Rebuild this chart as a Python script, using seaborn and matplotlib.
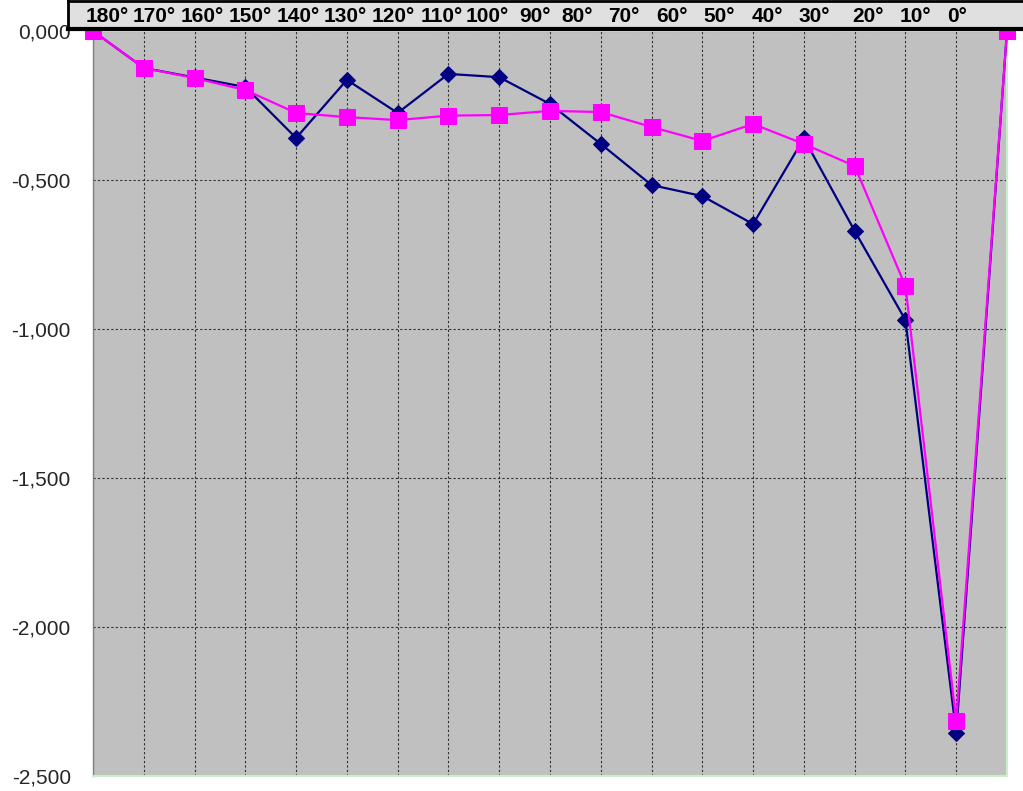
import pandas as pd
import matplotlib
matplotlib.use("Agg")
import matplotlib.pyplot as plt
import seaborn as sns

angles = ["180°", "170°", "160°", "150°", "140°", "130°", "120°", "110°", "100°", "90°",
          "80°", "70°", "60°", "50°", "40°", "30°", "20°", "10°", "0°"]
serie_azul = [0.0, -0.124, -0.156, -0.188, -0.359, -0.164, -0.275, -0.144, -0.155, -0.245,
              -0.379, -0.517, -0.554, -0.648, -0.360, -0.671, -0.970, -2.356, 0.0]
serie_rosa = [0.0, -0.124, -0.158, -0.198, -0.275, -0.289, -0.299, -0.284, -0.282, -0.268,
              -0.272, -0.322, -0.369, -0.312, -0.379, -0.453, -0.856, -2.315, 0.0]
y_ticks = [0.0, -0.5, -1.0, -1.5, -2.0, -2.5]

df = pd.DataFrame({"pos": range(len(angles)), "azul": serie_azul, "rosa": serie_rosa})

sns.set_style("white")
plt.rcParams['font.family'] = ['Liberation Sans', 'DejaVu Sans']

W, H = 1023, 791
fig = plt.figure(figsize=(W / 100, H / 100), dpi=100)
ax = fig.add_axes([93 / W, 1 - 776 / H, (1007 - 93) / W, (776 - 31) / H])
ax.set_facecolor("#c0c0c0")

sns.lineplot(data=df, x="pos", y="azul", ax=ax, color="#000080", linewidth=1.6,
             marker="D", markersize=8, markeredgecolor="#000080", clip_on=False, zorder=3)
sns.lineplot(data=df, x="pos", y="rosa", ax=ax, color="#ff00ff", linewidth=1.6,
             marker="s", markersize=11, markeredgecolor="#ff00ff", clip_on=False, zorder=4)

ax.set_xlim(0, len(angles) - 1)
ax.set_ylim(-2.5, 0)
ax.set_xticks(range(len(angles)))
ax.set_xticklabels([])
ax.tick_params(axis="x", length=0)
ax.set_yticks(y_ticks)
ax.set_yticklabels([f"{v:.3f}".replace(".", ",") for v in y_ticks], fontsize=15)
ax.tick_params(axis="y", direction="out", length=5, width=1, color="#000000", pad=11)
ax.grid(True, color="#303030", linestyle=(0, (2, 2)), linewidth=0.8)
ax.set_axisbelow(True)
ax.set_xlabel("")
ax.set_ylabel("")
for side in ["top", "right", "bottom"]:
    ax.spines[side].set_color("#c8f0c8")
    ax.spines[side].set_linewidth(1.5)
ax.spines["left"].set_color("#808080")
ax.spines["left"].set_linewidth(1)

# franja de etiquetas arriba
hdr = fig.add_axes([68 / W, 1 - 29 / H, (W - 68) / W + 0.01, 28 / H], zorder=10)
hdr.set_facecolor("#e0e0e0")
hdr.set_xticks([])
hdr.set_yticks([])
for s in hdr.spines.values():
    s.set_color("black")
    s.set_linewidth(2)
hdr.spines["bottom"].set_linewidth(3)

label_px = [107, 154, 202, 250, 298, 345, 393, 442, 487, 535, 577, 624, 672, 719, 767, 814, 868, 915, 957]
for lab, px in zip(angles, label_px):
    fig.text(px / W, 1 - 17 / H, lab, ha="center", va="center", fontsize=15,
             fontweight="bold", color="black", zorder=11)

fig.savefig("out.png", dpi=100)
